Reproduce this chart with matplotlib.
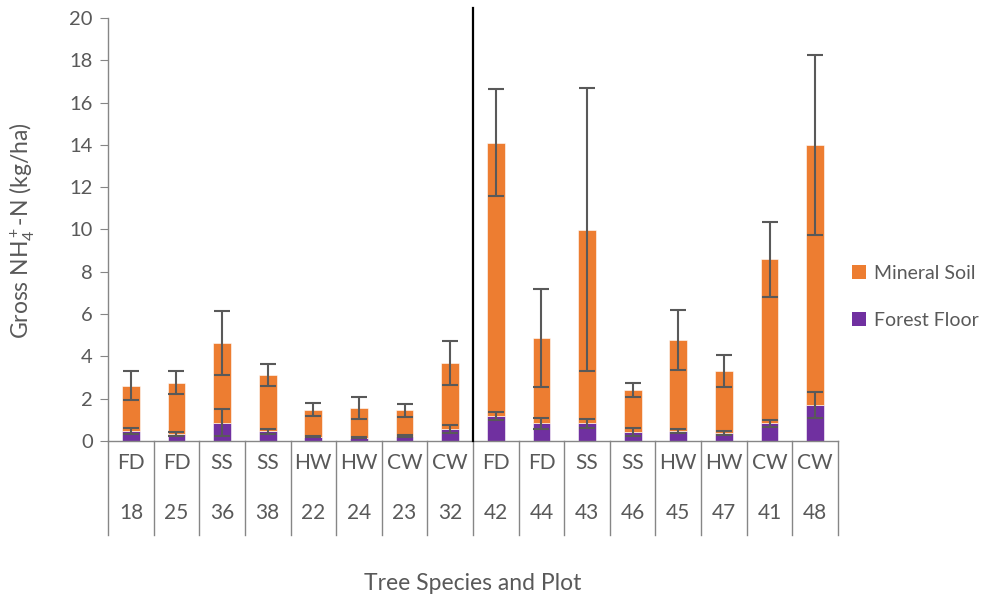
import matplotlib
matplotlib.use("Agg")
import matplotlib.pyplot as plt
from matplotlib.patches import Patch

species = ["FD", "FD", "SS", "SS", "HW", "HW", "CW", "CW",
           "FD", "FD", "SS", "SS", "HW", "HW", "CW", "CW"]
plots = ["18", "25", "36", "38", "22", "24", "23", "32",
         "42", "44", "43", "46", "45", "47", "41", "48"]

forest_floor = [0.47, 0.33, 0.87, 0.47, 0.20, 0.16, 0.22, 0.57,
                1.18, 0.84, 0.84, 0.43, 0.47, 0.36, 0.84, 1.70]
forest_floor_err = [0.15, 0.11, 0.62, 0.12, 0.03, 0.03, 0.05, 0.17,
                    0.19, 0.27, 0.22, 0.18, 0.09, 0.10, 0.16, 0.63]
mineral_soil = [2.15, 2.43, 3.76, 2.65, 1.28, 1.40, 1.23, 3.12,
                12.92, 4.03, 9.15, 1.98, 4.31, 2.94, 7.75, 12.30]
mineral_soil_err = [0.68, 0.56, 1.52, 0.50, 0.30, 0.50, 0.30, 1.03,
                    2.52, 2.33, 6.70, 0.31, 1.43, 0.77, 1.78, 4.25]

orange = "#ED7D31"
purple = "#7030A0"
err_col = "#595959"
axis_col = "#868686"
text_col = "#595959"

plt.rcParams["font.family"] = ["Lato", "DejaVu Sans"]
plt.rcParams["mathtext.fontset"] = "custom"
plt.rcParams["mathtext.rm"] = "Lato"
plt.rcParams["mathtext.it"] = "Lato"

fig = plt.figure(figsize=(9.91, 5.99), dpi=100)
ax = fig.add_axes([0.109, 0.2638, 0.7366, 0.7062])

x = list(range(len(species)))
ax.bar(x, forest_floor, width=0.39, color=purple, edgecolor="white", linewidth=0.4, zorder=2)
ax.bar(x, mineral_soil, width=0.39, bottom=forest_floor, color=orange,
       edgecolor="white", linewidth=0.4, zorder=2)

ax.errorbar(x, forest_floor, yerr=forest_floor_err, fmt="none", ecolor=err_col,
            elinewidth=1.5, capsize=5.5, capthick=1.5, zorder=3)
tops = [f + m for f, m in zip(forest_floor, mineral_soil)]
ax.errorbar(x, tops, yerr=mineral_soil_err, fmt="none", ecolor=err_col,
            elinewidth=1.5, capsize=5.5, capthick=1.5, zorder=3)

ax.set_xlim(-0.5, len(species) - 0.5)
ax.set_ylim(0, 20)
ax.set_yticks(range(0, 21, 2))
ax.tick_params(axis="y", colors=axis_col, labelcolor=text_col, labelsize=14.5,
               length=6, direction="out", pad=5)
ax.set_xticks([])
for s in ["top", "right"]:
    ax.spines[s].set_visible(False)
for s in ["left", "bottom"]:
    ax.spines[s].set_color(axis_col)
    ax.spines[s].set_linewidth(1.0)

# two-level category axis
trans = ax.get_xaxis_transform()
for b in range(len(species) + 1):
    ax.plot([b - 0.5, b - 0.5], [0, -0.222], transform=trans, color=axis_col,
            linewidth=1.0, clip_on=False)
for i in x:
    ax.text(i, -0.052, species[i], transform=trans, ha="center", va="center",
            fontsize=15, color=text_col)
    ax.text(i, -0.170, plots[i], transform=trans, ha="center", va="center",
            fontsize=15, color=text_col)

# divider between the two sets of plots
ax.plot([7.5, 7.5], [0, 20.47], color="black", linewidth=1.6, clip_on=False, zorder=4)

fig.text(22 / 991, 1 - 231 / 599, "Gross NH$_4^+$-N (kg/ha)", rotation=90,
         ha="center", va="center", fontsize=16.5, color=text_col)
fig.text(473 / 991, 1 - 583 / 599, "Tree Species and Plot", ha="center",
         va="center", fontsize=16.5, color=text_col)

handles = [Patch(facecolor=orange, label="Mineral Soil"),
           Patch(facecolor=purple, label="Forest Floor")]
fig.legend(handles=handles, loc="center left", bbox_to_anchor=(852 / 991, 1 - 297 / 599),
           frameon=False, fontsize=14, handlelength=0.7, handleheight=0.7,
           handletextpad=0.45, labelspacing=1.55, labelcolor=text_col,
           borderpad=0, borderaxespad=0)

fig.savefig("out.png", dpi=100)
